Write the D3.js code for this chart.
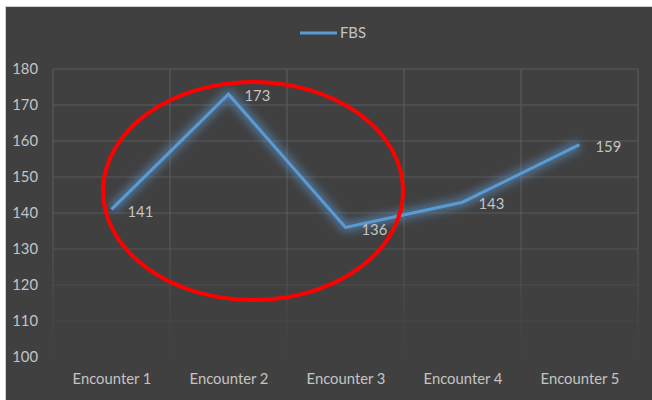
<!DOCTYPE html>
<html><head><meta charset="utf-8">
<script src="https://cdn.jsdelivr.net/npm/d3@7"></script>
<style>
html,body{margin:0;padding:0;background:#fff;}
svg{display:block;}
text{font-family:Lato,"Open Sans",sans-serif;}
</style></head>
<body>
<script>
const categories = ["Encounter 1","Encounter 2","Encounter 3","Encounter 4","Encounter 5"];
const fbsValues = [141,173,136,143,159];
const yTicks = [100,110,120,130,140,150,160,170,180];
const seriesName = "FBS";

const W = 652, H = 400;
const FS = "14.8px";
const TXT = "#c4c4c4";
const svg = d3.select("body").append("svg").attr("width",W).attr("height",H);

// chart background
svg.append("rect").attr("x",0).attr("y",0).attr("width",W).attr("height",H).attr("fill","#ffffff");
svg.append("rect").attr("x",5).attr("y",6).attr("width",W-5).attr("height",H-6).attr("fill","#cfcfcf");
svg.append("rect").attr("x",6).attr("y",7).attr("width",W-6).attr("height",H-7).attr("fill","#404040");

const plot = {left:53, right:638, top:69, bottom:357};
const x = d3.scalePoint().domain(categories).range([plot.left,plot.right]).padding(0.5);
const y = d3.scaleLinear().domain([100,180]).range([plot.bottom,plot.top]);

const defs = svg.append("defs");
const grad = defs.append("linearGradient").attr("id","gridFade")
  .attr("gradientUnits","userSpaceOnUse").attr("x1",0).attr("y1",plot.top).attr("x2",0).attr("y2",plot.bottom);
grad.append("stop").attr("offset","0").attr("stop-color","#5a5a5a").attr("stop-opacity",1);
grad.append("stop").attr("offset","0.55").attr("stop-color","#5a5a5a").attr("stop-opacity",0.9);
grad.append("stop").attr("offset","0.9").attr("stop-color","#5a5a5a").attr("stop-opacity",0.15);
grad.append("stop").attr("offset","1").attr("stop-color","#5a5a5a").attr("stop-opacity",0);

const glow = defs.append("filter").attr("id","glow").attr("x","-20%").attr("y","-30%").attr("width","140%").attr("height","160%");
glow.append("feGaussianBlur").attr("in","SourceGraphic").attr("stdDeviation",4.5);

// gridlines
const step = x.step();
const vEdges = d3.range(categories.length+1).map(i => plot.left + i*step);
const g = svg.append("g");
g.selectAll("line.h").data(yTicks).join("line")
  .attr("x1",plot.left).attr("x2",plot.right)
  .attr("y1",d=>y(d)).attr("y2",d=>y(d))
  .attr("stroke","url(#gridFade)").attr("stroke-width",1.2);
g.selectAll("line.v").data(vEdges).join("line")
  .attr("x1",d=>d).attr("x2",d=>d)
  .attr("y1",plot.top).attr("y2",plot.bottom)
  .attr("stroke","url(#gridFade)").attr("stroke-width",1.2);

// axes
const yAxis = svg.append("g").attr("transform",`translate(${plot.left-15},0)`)
  .call(d3.axisLeft(y).tickValues(yTicks).tickSize(0).tickPadding(0));
yAxis.select(".domain").remove();
yAxis.selectAll("text").attr("fill",TXT).attr("font-size",FS).attr("font-family","Lato,'Open Sans',sans-serif");

const xAxis = svg.append("g").attr("transform",`translate(0,${plot.bottom+16})`)
  .call(d3.axisBottom(x).tickSize(0).tickPadding(0));
xAxis.select(".domain").remove();
xAxis.selectAll("text").attr("fill",TXT).attr("font-size",FS).attr("font-family","Lato,'Open Sans',sans-serif");

// line
const data = categories.map((c,i)=>({c, v:fbsValues[i]}));
const line = d3.line().x(d=>x(d.c)).y(d=>y(d.v));
svg.append("path").datum(data).attr("d",line).attr("fill","none")
  .attr("stroke","#5b9bd5").attr("stroke-opacity",0.6).attr("stroke-width",9)
  .attr("stroke-linejoin","round").attr("filter","url(#glow)");
svg.append("path").datum(data).attr("d",line).attr("fill","none")
  .attr("stroke","#5b9bd5").attr("stroke-width",3).attr("stroke-linejoin","miter");

// data labels
svg.selectAll("text.lbl").data(data).join("text")
  .attr("x",d=>x(d.c)+16).attr("y",d=>y(d.v)+2)
  .attr("dy","0.35em").attr("fill",TXT).attr("font-size",FS)
  .text(d=>d.v);

// legend
const lg = svg.append("g");
lg.append("line").attr("x1",300).attr("x2",337).attr("y1",33).attr("y2",33)
  .attr("stroke","#5b9bd5").attr("stroke-width",3);
lg.append("text").attr("x",340).attr("y",33).attr("dy","0.35em")
  .attr("fill",TXT).attr("font-size",FS).text(seriesName);

// red annotation ellipse
svg.append("ellipse")
  .attr("cx", x(categories[1]) + 0.21*step)
  .attr("cy", y(146.1))
  .attr("rx", 150).attr("ry", 109)
  .attr("fill","none").attr("stroke","#ff0000").attr("stroke-width",4);
</script>
</body></html>
